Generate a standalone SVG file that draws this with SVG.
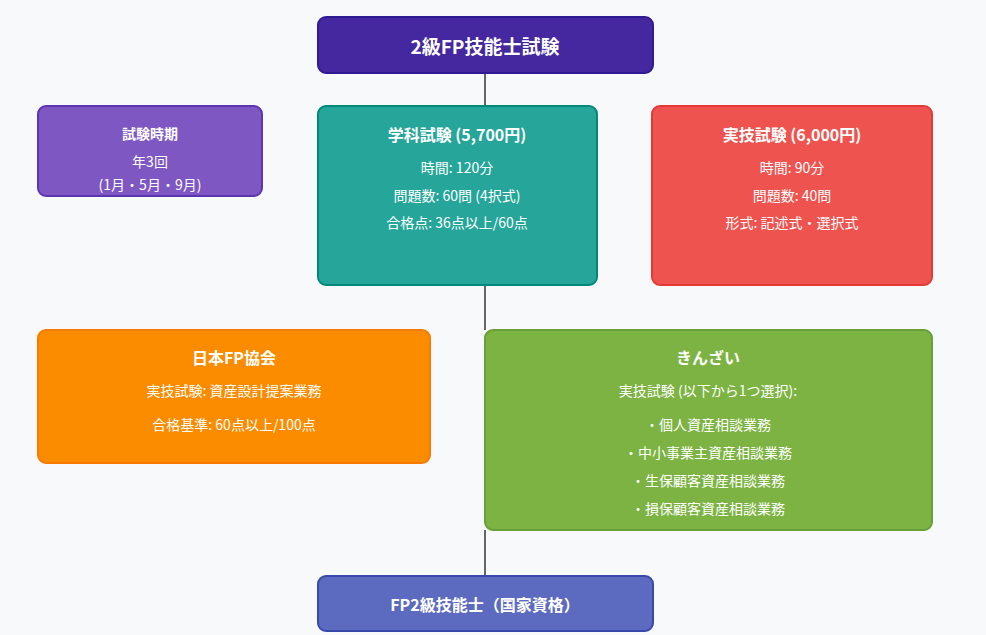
<svg xmlns="http://www.w3.org/2000/svg" width="986" height="635" viewBox="0 0 986 635">
<style>
text{font-family:"Noto Sans CJK JP","Noto Sans",sans-serif;fill:#fff;text-anchor:middle;dominant-baseline:central;font-size:14px}
.t{font-weight:bold;font-size:16px}
.b{stroke-width:2}
.c{stroke:#666;stroke-width:2;fill:none}
</style>
<rect width="986" height="635" fill="#f8f9fa"/>
<g id="connectors">
<line class="c" x1="485" y1="73" x2="485" y2="106"/>
<line class="c" x1="485" y1="285" x2="485" y2="330"/>
<line class="c" x1="485" y1="530" x2="485" y2="576"/>
</g>
<g id="top"><rect class="b" x="318" y="17" width="335" height="56" rx="8" fill="#4527a0" stroke="#311b92"/>
<text x="485" y="45" style="font-size:19px;font-weight:bold">2級FP技能士試験</text></g>
<g id="period"><rect class="b" x="38" y="106" width="224" height="90" rx="8" fill="#7e57c2" stroke="#5e35b1"/>
<text x="150" y="133" style="font-weight:bold">試験時期</text><text x="150" y="161">年3回</text><text x="150" y="184">(1月・5月・9月)</text></g>
<g id="gakka"><rect class="b" x="318" y="106" width="279" height="179" rx="8" fill="#26a69a" stroke="#00897b"/>
<text class="t" x="457" y="134">学科試験 (5,700円)</text><text x="457" y="167">時間: 120分</text><text x="457" y="195">問題数: 60問 (4択式)</text><text x="457" y="222">合格点: 36点以上/60点</text></g>
<g id="jitsugi"><rect class="b" x="652" y="106" width="280" height="179" rx="8" fill="#ef5350" stroke="#e53935"/>
<text class="t" x="792" y="134">実技試験 (6,000円)</text><text x="792" y="167">時間: 90分</text><text x="792" y="195">問題数: 40問</text><text x="792" y="222">形式: 記述式・選択式</text></g>
<g id="jafp"><rect class="b" x="38" y="330" width="392" height="133" rx="8" fill="#fb8c00" stroke="#f57c00"/>
<text class="t" x="234" y="357">日本FP協会</text><text x="234" y="390">実技試験: 資産設計提案業務</text><text x="234" y="424">合格基準: 60点以上/100点</text></g>
<g id="kinzai"><rect class="b" x="485" y="330" width="447" height="200" rx="8" fill="#7cb342" stroke="#689f38"/>
<text class="t" x="708" y="357">きんざい</text><text x="708" y="390">実技試験 (以下から1つ選択):</text>
<text x="708" y="424">・個人資産相談業務</text><text x="708" y="452">・中小事業主資産相談業務</text><text x="708" y="480">・生保顧客資産相談業務</text><text x="708" y="508">・損保顧客資産相談業務</text></g>
<g id="result"><rect class="b" x="318" y="576" width="335" height="55" rx="8" fill="#5c6bc0" stroke="#3949ab"/>
<text class="t" x="485" y="604">FP2級技能士（国家資格）</text></g>
</svg>
